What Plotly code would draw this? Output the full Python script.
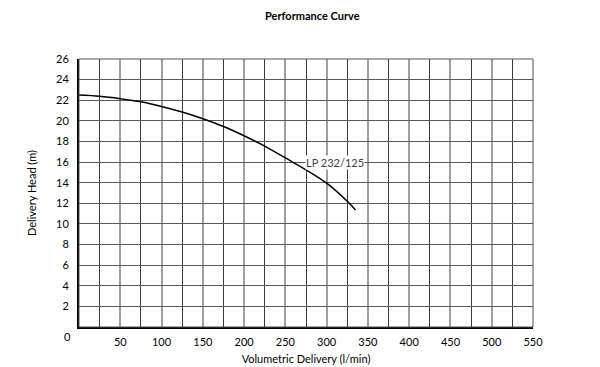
import plotly.graph_objects as go

flow = [0, 25, 50, 75, 100, 125, 150, 175, 200, 225, 250, 275, 300, 325, 335]
head = [22.5, 22.38, 22.15, 21.85, 21.4, 20.85, 20.2, 19.45, 18.55, 17.55, 16.4, 15.25, 13.95, 12.2, 11.35]
series_name = "LP 232/125"
x_ticks = [50, 100, 150, 200, 250, 300, 350, 400, 450, 500, 550]
y_ticks = [2, 4, 6, 8, 10, 12, 14, 16, 18, 20, 22, 24, 26]

FONT = "Lato, 'Open Sans', sans-serif"

fig = go.Figure()
fig.add_trace(go.Scatter(x=flow, y=head, mode="lines", line=dict(color="black", width=1.5),
                         line_shape="spline", showlegend=False, name=series_name))

fig.update_layout(
    width=592, height=359,
    margin=dict(l=71, r=67, t=51, b=40, autoexpand=False),
    paper_bgcolor="white", plot_bgcolor="white",
    font=dict(family=FONT, size=11, color="black"),
    xaxis=dict(range=[0, 550], tickvals=x_ticks, ticktext=[str(v) for v in x_ticks],
               showgrid=True, gridcolor="#a0a0a0", gridwidth=1.5,
               minor=dict(dtick=25, tick0=0, showgrid=True, gridcolor="#3a3a3a", gridwidth=1),
               showline=True, linecolor="black", linewidth=2, ticks="", zeroline=False,
               ticklabelstandoff=4, automargin=False,
               title=dict(text="Volumetric Delivery (l/min)", font=dict(size=11), standoff=8)),
    yaxis=dict(range=[0, 26], tickvals=y_ticks, ticktext=[str(v) for v in y_ticks],
               showgrid=True, gridcolor="#5a5a5a", gridwidth=1,
               showline=True, linecolor="black", linewidth=2, ticks="", zeroline=False,
               ticklabelstandoff=6, automargin=False,
               title=dict(text="Delivery Head (m)", font=dict(size=11), standoff=17)),
    shapes=[dict(type="rect", xref="paper", yref="paper", x0=0, x1=1, y0=0, y1=1,
                 line=dict(color="#505050", width=1), layer="above")],
    annotations=[
        dict(text="<b>Performance Curve</b>", xref="paper", yref="paper", x=0.515, y=1.0,
             yshift=44, showarrow=False, font=dict(size=11), xanchor="center", yanchor="middle"),
        dict(text="0", xref="paper", yref="paper", x=-0.026, y=-0.037, showarrow=False,
             font=dict(size=11), xanchor="center", yanchor="middle"),
        dict(text=series_name, xref="x", yref="y", x=274, y=16, showarrow=False,
             xanchor="left", yanchor="middle", bgcolor="white", font=dict(size=11, color="#404040"),
             borderpad=0),
    ],
)

fig.write_html("out.html")
